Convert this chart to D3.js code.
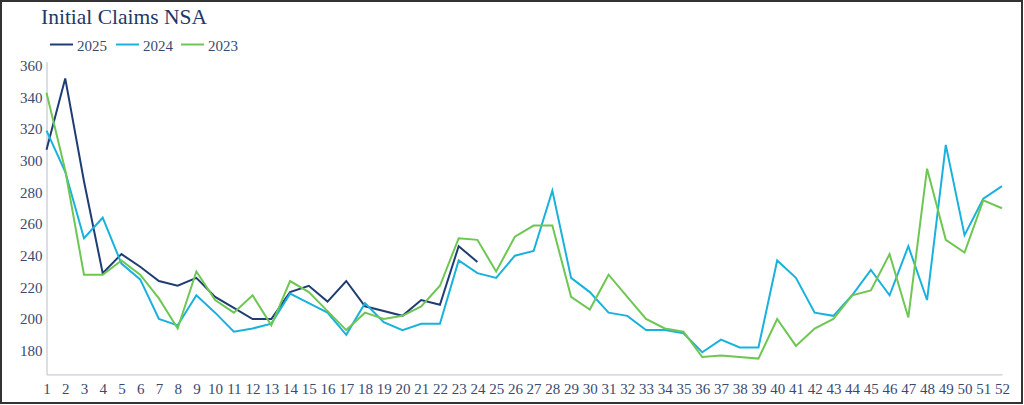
<!DOCTYPE html>
<html>
<head>
<meta charset="utf-8">
<script src="https://cdn.jsdelivr.net/npm/d3@7"></script>
<style>
  html, body { margin: 0; padding: 0; background: #fff; }
  svg { display: block; }
</style>
</head>
<body>
<svg id="chart" width="1024" height="405"></svg>
<script>
const title = "Initial Claims NSA";
const weeks = [1,2,3,4,5,6,7,8,9,10,11,12,13,14,15,16,17,18,19,20,21,22,23,24,25,26,
  27,28,29,30,31,32,33,34,35,36,37,38,39,40,41,42,43,44,45,46,47,48,49,50,51,52];
const yTicks = [180, 200, 220, 240, 260, 280, 300, 320, 340, 360];
const seriesNames = ["2025", "2024", "2023"];
const v2025 = [307, 352, 287, 229, 241, 233, 224, 221, 226, 214, 207, 200, 200, 217, 221, 211,
  224, 208, 205, 202, 212, 209, 246, 236];
const v2024 = [319, 293, 251, 264, 235, 225, 200, 196, 215, 204, 192, 194, 197, 216, 210, 204,
  190, 210, 198, 193, 197, 197, 237, 229, 226, 240, 243, 281, 226, 217, 204, 202, 193, 193,
  191, 179, 187, 182, 182, 237, 226, 204, 202, 215, 231, 215, 246, 212, 310, 253, 276, 284];
const v2023 = [343, 294, 228, 228, 237, 228, 213, 194, 230, 212, 204, 215, 196, 224, 217, 205,
  193, 204, 200, 202, 208, 221, 251, 250, 230, 252, 259, 259, 214, 206, 228, 214, 200, 194,
  192, 176, 177, 176, 175, 200, 183, 194, 200, 215, 218, 241, 201, 295, 250, 242, 275, 270];
const seriesValues = [v2025, v2024, v2023];
const colors = ["#1f3d73", "#1ab2dc", "#6ec653"];

const svg = d3.select("#chart");
const textColor = "#3a4a6e";
const font = "'Liberation Serif', 'Times New Roman', serif";

// frame
svg.append("rect").attr("x", 1).attr("y", 1).attr("width", 1021).attr("height", 402)
  .attr("fill", "none").attr("stroke", "#333").attr("stroke-width", 2);

const x = d3.scaleLinear().domain([1, 52]).range([46.5, 1002]);
const y = d3.scaleLinear().domain([165, 362.5]).range([374.4, 61.8]);

// title
svg.append("text").attr("x", 41).attr("y", 24).text(title)
  .attr("font-family", font).attr("font-size", 21.5).attr("fill", "#1f3864");

// legend
const legX = [50, 116, 181];
seriesNames.forEach((n, i) => {
  svg.append("line").attr("x1", legX[i]).attr("x2", legX[i] + 23)
    .attr("y1", 44.5).attr("y2", 44.5).attr("stroke", colors[i]).attr("stroke-width", 2);
  svg.append("text").attr("x", legX[i] + 27).attr("y", 50.5).text(n)
    .attr("font-family", font).attr("font-size", 15).attr("fill", textColor);
});

// axes
const yAxis = svg.append("g").attr("transform", `translate(${x(1)},0)`)
  .call(d3.axisLeft(y).tickValues(yTicks).tickSize(0).tickPadding(4).tickFormat(d3.format("d")));
const xAxis = svg.append("g").attr("transform", `translate(0,${y(165)})`)
  .call(d3.axisBottom(x).tickValues(weeks).tickSize(0).tickPadding(9).tickFormat(d3.format("d")));
[xAxis, yAxis].forEach(g => {
  g.select(".domain").attr("stroke", "#c5ced6").attr("stroke-width", 1.3);
  g.selectAll("text").attr("font-family", font).attr("font-size", 15).attr("fill", textColor);
});

// lines
const line = d3.line().x((d, i) => x(weeks[i])).y(d => y(d));
seriesValues.forEach((vals, i) => {
  svg.append("path").datum(vals).attr("d", line)
    .attr("fill", "none").attr("stroke", colors[i]).attr("stroke-width", 2)
    .attr("stroke-linejoin", "miter");
});
</script>
</body>
</html>
